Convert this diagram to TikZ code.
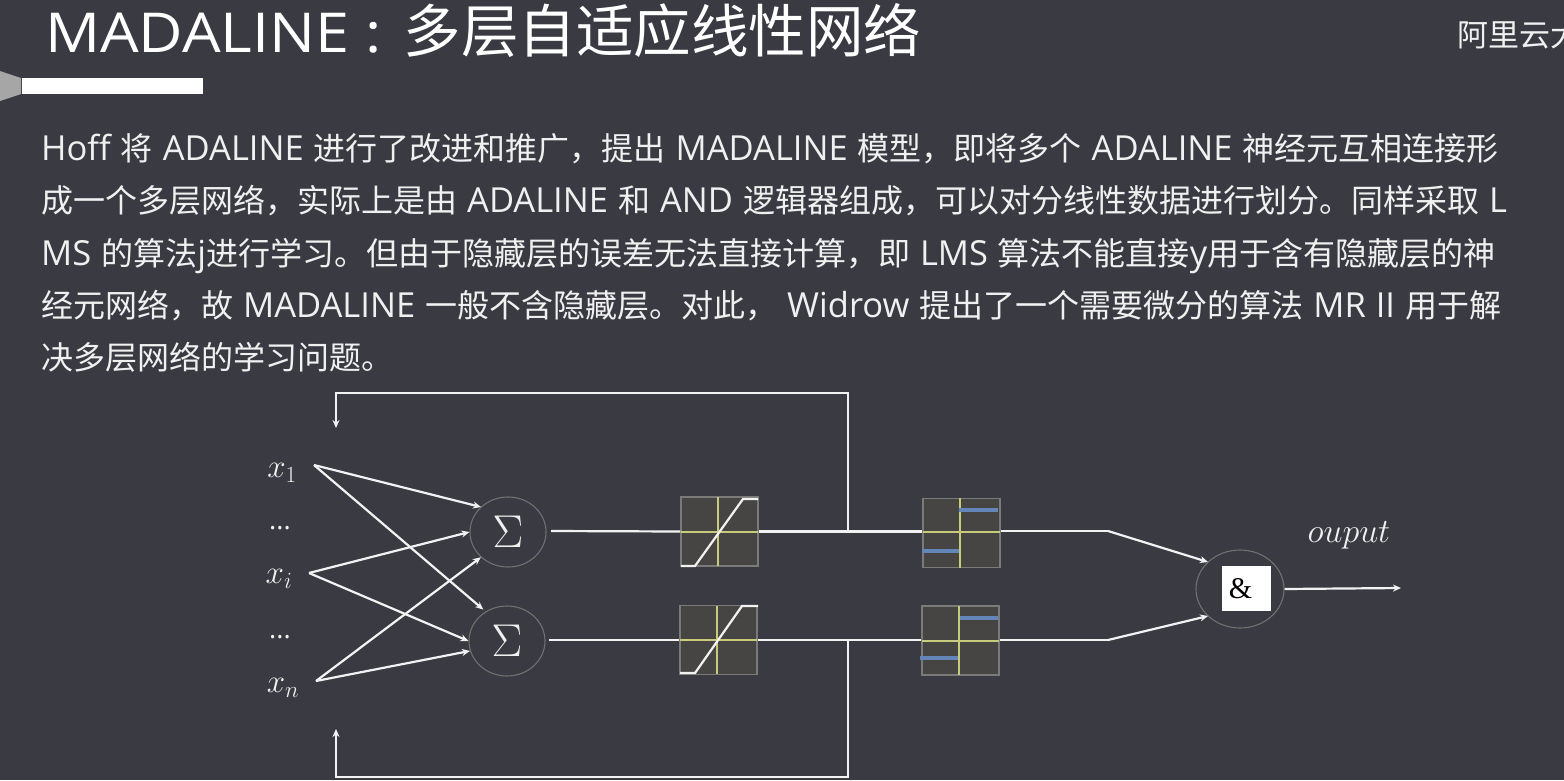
\RequirePackage{fix-cm}
\documentclass[tikz,border=0pt]{standalone}
\usepackage{fontspec}
\usetikzlibrary{shapes.geometric,arrows.meta}
\setmainfont{Noto Sans CJK SC}
\newfontfamily\latf{Open Sans}
\newfontfamily\latw[FakeStretch=1.11]{Open Sans}
\newfontfamily\serf{Liberation Serif}
\newcommand{\lat}[1]{{\latf\fontsize{34.5}{34.5}\selectfont #1}}
\newcommand{\bodyfont}{\fontsize{32}{32}\selectfont\spaceskip=10pt\relax}
\definecolor{bg}{HTML}{3A3B42}
\definecolor{wire}{HTML}{F2F2F2}
\definecolor{txt}{HTML}{F0F0F0}
\definecolor{rim}{HTML}{707070}
\definecolor{panel}{HTML}{464543}
\definecolor{panelrim}{HTML}{7A7A78}
\definecolor{axis}{HTML}{C9CB7C}
\definecolor{barblue}{HTML}{6385B8}
\tikzset{
  body/.style={anchor=base west,text=txt,inner sep=0pt,font=\bodyfont},
  wirel/.style={draw=wire,line width=2.2pt},
  conn/.style={wirel,-{Stealth[length=8pt,width=7pt]}},
  sumn/.style={draw=rim,line width=1.1pt,ellipse,minimum width=76pt,minimum height=70pt,inner sep=0pt,text=txt,font=\fontsize{46}{46}\selectfont},
  panelbox/.style={draw=panelrim,fill=panel,line width=1.2pt,minimum width=77pt,minimum height=69pt,inner sep=0pt},
  axisl/.style={draw=axis,line width=1.4pt},
  bluebar/.style={draw=barblue,line width=4.5pt},
  mathl/.style={text=txt,inner sep=0pt,font=\fontsize{33}{33}\selectfont},
  dotsl/.style={text=txt,inner sep=0pt,font=\latf\fontsize{27}{27}\selectfont},
}
\begin{document}
\begin{tikzpicture}[x=1pt,y=-1pt]
\path[use as bounding box,fill=bg] (0,0) rectangle (1564,780);
\clip (0,0) rectangle (1564,780);
% header
\node[anchor=base west,text=white,inner sep=0pt,font=\fontsize{57.5}{57.5}\selectfont] (title) at (45,52) {{\latw\fontsize{55}{55}\selectfont MADALINE\hspace*{16pt}:\hspace*{22pt}}多层自适应线性网络};
\node[anchor=base west,text=txt,inner sep=0pt,font=\fontsize{31}{31}\selectfont] (brand) at (1457,46) {阿里云大};
\fill[fill=white] (22,78) rectangle (203,94);
\fill[fill=black!35] (0,71) -- (21,78) -- (21,94) -- (0,101) -- cycle;
% paragraph
\node[body] (l1) at (41,160) {\lat{Hoff} 将 \lat{ADALINE} 进行了改进和推广，提出 \lat{MADALINE} 模型，即将多个 \lat{ADALINE} 神经元互相连接形};
\node[body] (l2) at (41,212) {成一个多层网络，实际上是由 \lat{ADALINE} 和 \lat{AND} 逻辑器组成，可以对分线性数据进行划分。同样采取 \lat{L}};
\node[body] (l3) at (41,265) {\lat{MS} 的算法\lat{j}进行学习。但由于隐藏层的误差无法直接计算，即 \lat{LMS} 算法不能直接\lat{y}用于含有隐藏层的神};
\node[body] (l4) at (41,317) {经元网络，故 \lat{MADALINE} 一般不含隐藏层。对此， \lat{Widrow} 提出了一个需要微分的算法 \lat{MR II} 用于解};
\node[body] (l5) at (41,369) {决多层网络的学习问题。};
% inputs
\node[mathl] (x1) at (282,473) {$x_1$};
\node[dotsl] (d1) at (280,528) {...};
\node[mathl] (xi) at (279,579) {$x_i$};
\node[dotsl] (d2) at (280,637) {...};
\node[mathl] (xn) at (283,688) {$x_n$};
\coordinate (x1o) at (314,465);
\coordinate (xio) at (309,573);
\coordinate (xno) at (316,681);
% summers
\node[sumn] (s1) at (508,532) {$\Sigma$};
\node[sumn] (s2) at (507,641) {$\Sigma$};
% ramp boxes
\node[panelbox] (r1) at (719.5,531.5) {};
\node[panelbox] (r2) at (718.5,640) {};
\draw[axisl] (718,497) -- (718,566) (681,532) -- (758,532);
\draw[axisl] (717,606) -- (717,674) (680,640) -- (757,640);
\draw[wirel] (681,566) -- (695,566) -- (743,499) -- (758,499);
\draw[wirel] (680,673) -- (695,673) -- (742,606) -- (758,606);
% step boxes
\node[panelbox] (t1) at (961.5,533) {};
\node[panelbox] (t2) at (960.5,640.5) {};
\draw[axisl] (960,498) -- (960,568) (923,532) -- (1000,532);
\draw[axisl] (959,606) -- (959,675) (922,641) -- (999,641);
\draw[bluebar] (959,510) -- (998,510) (922,551) -- (959,551);
\draw[bluebar] (960,618) -- (998,618) (920,658) -- (958,658);
% AND
\node[draw=rim,line width=1.1pt,ellipse,minimum width=88pt,minimum height=78pt,inner sep=0pt] (and) at (1240,589) {};
\node[fill=white,text=black,minimum width=49pt,minimum height=45pt,inner sep=0pt,font=\serf\fontsize{30}{30}\selectfont] (amp) at (1246.5,588.5) {\hspace*{-12pt}\&};
\node[mathl,font=\fontsize{34}{34}\selectfont] (out) at (1349,535) {$ouput$};
\coordinate (outend) at (1401,588);
% connectors in
\draw[conn] (x1o) -- (481,507);
\draw[conn,shorten >=3pt] (x1o) -- (s2.126);
\draw[conn] (xio) -- (s1.180);
\draw[conn] (xio) -- (s2.180);
\draw[conn] (xno) -- (s1.223);
\draw[conn] (xno) -- (s2.195);
% forward wires
\draw[wirel] (551,531) -- (r1.west);
\draw[wirel] (549,640) -- (r2.west);
\draw[wirel] (r1.east) -- (t1.west |- r1.east);
\draw[wirel] (r2.east) -- (t2.west |- r2.east);
\coordinate (k1) at (1108,531);
\coordinate (k2) at (1108,640);
\draw[wirel] (t1.east |- k1) -- (k1);
\draw[wirel] (t2.east |- k2) -- (k2);
\draw[conn] (k1) -- (1208,562);
\draw[conn] (k2) -- (1208,616);
\draw[conn] (and.east) -- (outend);
% feedback
\coordinate (fb1) at (848,393);
\coordinate (fb2) at (336,393);
\coordinate (fb3) at (336,428);
\coordinate (fb4) at (848,777);
\coordinate (fb5) at (336,777);
\coordinate (fb6) at (336,729);
\draw[conn] (848,531) -- (fb1) -- (fb2) -- (fb3);
\draw[conn] (848,640) -- (fb4) -- (fb5) -- (fb6);
\end{tikzpicture}
\end{document}
